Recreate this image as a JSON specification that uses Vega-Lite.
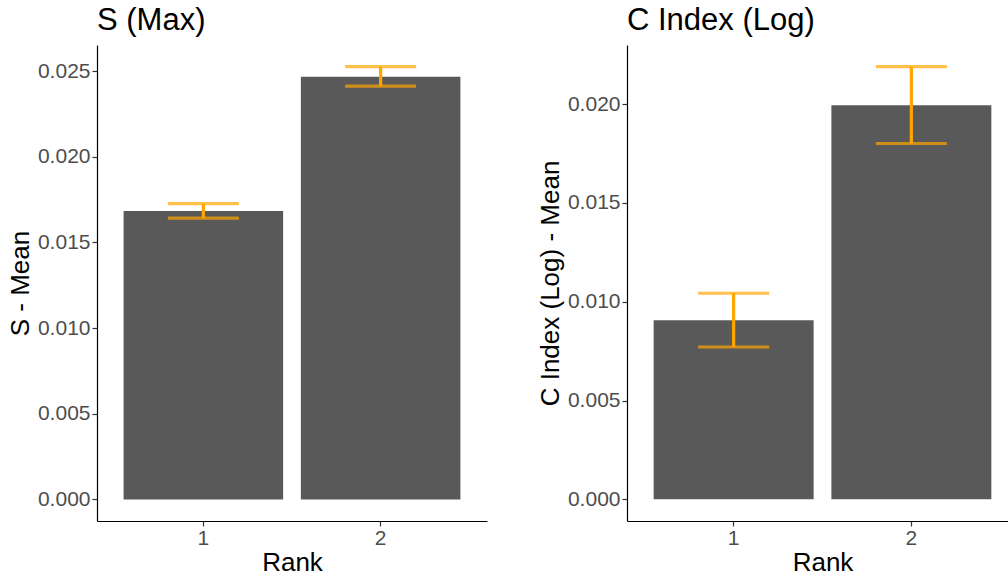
{
  "$schema": "https://vega.github.io/schema/vega-lite/v6.json",
  "datasets": {
    "d": [
      {"panel": "S", "rank": "1", "mean": 0.01683, "lo": 0.01642, "hi": 0.01726},
      {"panel": "S", "rank": "2", "mean": 0.02466, "lo": 0.02412, "hi": 0.02526},
      {"panel": "C", "rank": "1", "mean": 0.00907, "lo": 0.00771, "hi": 0.01043},
      {"panel": "C", "rank": "2", "mean": 0.01994, "lo": 0.01801, "hi": 0.0219}
    ]
  },
  "background": "white",
  "padding": {"left": 7, "top": 5, "right": 5, "bottom": 5},
  "config": {
    "font": "Liberation Sans",
    "view": {"stroke": null},
    "axis": {
      "grid": false,
      "domainColor": "black",
      "domainWidth": 1.2,
      "tickColor": "#333333",
      "tickWidth": 1.2,
      "tickSize": 5,
      "labelColor": "#4D4D4D",
      "labelFontSize": 21,
      "labelPadding": 2,
      "titleFontSize": 26,
      "titleFontWeight": "normal",
      "titleColor": "black",
      "titlePadding": 4
    },
    "axisX": {"labelPadding": 1, "titlePadding": 1},
    "title": {"fontSize": 31, "fontWeight": "normal", "anchor": "start", "frame": "group", "color": "black", "offset": 8}
  },
  "spacing": 50,
  "hconcat": [
    {
      "width": 390,
      "height": 476,
      "title": "S (Max)",
      "data": {"name": "d"},
      "transform": [{"filter": "datum.panel == 'S'"}],
      "encoding": {
        "x": {"field": "rank", "type": "ordinal", "scale": {"paddingInner": 0.1, "paddingOuter": 0.15}, "axis": {"title": "Rank", "labelAngle": 0}}
      },
      "layer": [
        {
          "mark": {"type": "bar", "color": "#595959"},
          "encoding": {
            "y": {"field": "mean", "type": "quantitative", "title": "S - Mean", "scale": {"domain": [-0.00126, 0.02652], "nice": false, "zero": false}, "axis": {"values": [0, 0.005, 0.01, 0.015, 0.02, 0.025], "format": ".3f"}},
            "y2": {"datum": 0}
          }
        },
        {
          "mark": {"type": "rule", "color": "#FFA500", "strokeWidth": 3.2},
          "encoding": {"y": {"field": "lo", "type": "quantitative", "title": "S - Mean"}, "y2": {"field": "hi"}}
        },
        {
          "mark": {"type": "tick", "color": "#FFA500", "thickness": 3.2, "size": 71},
          "encoding": {"y": {"field": "lo", "type": "quantitative", "title": "S - Mean"}}
        },
        {
          "mark": {"type": "tick", "color": "#FFA500", "thickness": 3.2, "size": 71},
          "encoding": {"y": {"field": "hi", "type": "quantitative", "title": "S - Mean"}}
        }
      ]
    },
    {
      "width": 391,
      "height": 476,
      "title": "C Index (Log)",
      "data": {"name": "d"},
      "transform": [{"filter": "datum.panel == 'C'"}],
      "encoding": {
        "x": {"field": "rank", "type": "ordinal", "scale": {"paddingInner": 0.1, "paddingOuter": 0.15}, "axis": {"title": "Rank", "labelAngle": 0}}
      },
      "layer": [
        {
          "mark": {"type": "bar", "color": "#595959"},
          "encoding": {
            "y": {"field": "mean", "type": "quantitative", "title": "C Index (Log) - Mean", "scale": {"domain": [-0.001095, 0.022995], "nice": false, "zero": false}, "axis": {"values": [0, 0.005, 0.01, 0.015, 0.02], "format": ".3f"}},
            "y2": {"datum": 0}
          }
        },
        {
          "mark": {"type": "rule", "color": "#FFA500", "strokeWidth": 3.2},
          "encoding": {"y": {"field": "lo", "type": "quantitative", "title": "C Index (Log) - Mean"}, "y2": {"field": "hi"}}
        },
        {
          "mark": {"type": "tick", "color": "#FFA500", "thickness": 3.2, "size": 71},
          "encoding": {"y": {"field": "lo", "type": "quantitative", "title": "C Index (Log) - Mean"}}
        },
        {
          "mark": {"type": "tick", "color": "#FFA500", "thickness": 3.2, "size": 71},
          "encoding": {"y": {"field": "hi", "type": "quantitative", "title": "C Index (Log) - Mean"}}
        }
      ]
    }
  ]
}
